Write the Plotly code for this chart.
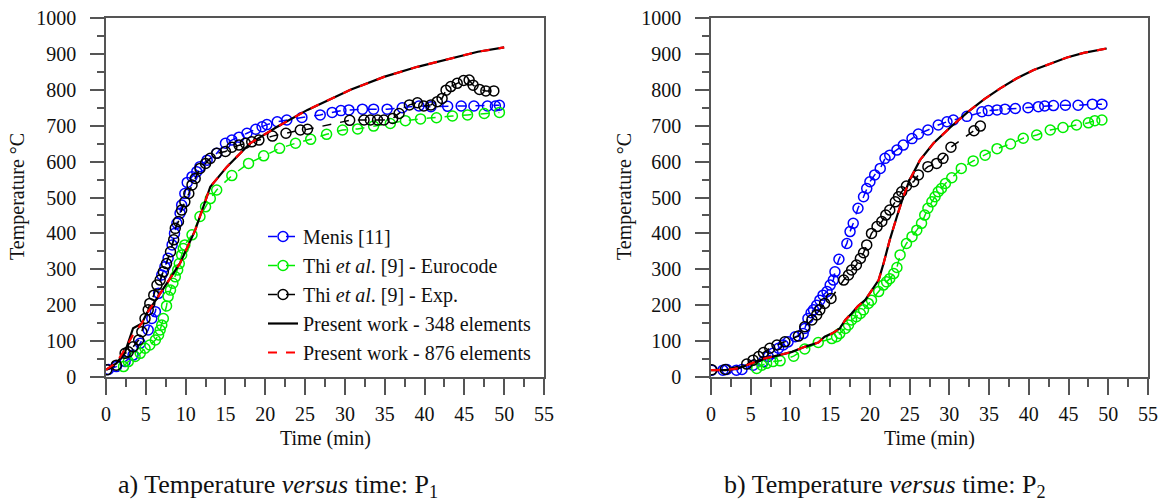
import plotly.graph_objects as go

# ---- P1 data (time in min, temperature in degC) ----
p1_menis_t = [0.3, 1.3, 2.4, 3.4, 4.3, 5.3, 5.75, 6.2, 6.6, 7.0, 7.4, 7.8, 8.3, 8.6, 8.9,
              9.3, 9.5, 9.9, 10.2, 10.8, 11.4, 11.8, 12.7, 13.9, 15.0, 15.8, 16.7, 17.7, 18.8, 19.6,
              20.2, 21.5, 22.7, 24.6, 26.9, 28.4, 29.5, 30.5, 32.2, 33.6, 35.3, 37.2, 39.3, 40.8, 42.9,
              44.6, 46.2, 47.9, 48.9, 49.4]
p1_menis_T = [21, 29, 43, 61, 94, 131, 163, 182, 233, 284, 307, 331, 368, 400, 428,
              456, 479, 511, 542, 558, 572, 586, 604, 623, 651, 660, 668, 679, 690, 697,
              703, 711, 716, 723, 730, 737, 742, 744, 746, 746, 746, 750, 755, 753, 754,
              755, 755, 755, 755, 757]

p1_euro_t = [2.2, 2.8, 3.65, 4.3, 4.9, 5.5, 6.2, 6.6, 6.8, 7.0, 7.2, 7.6, 7.8, 8.1, 8.4,
             8.7, 9.0, 9.2, 9.5, 9.7, 9.9, 10.8, 11.8, 12.5, 13.1, 13.9, 15.8, 17.9, 19.8, 21.8,
             23.8, 25.7, 27.7, 29.7, 31.6, 33.6, 35.7, 37.6, 39.5, 41.5, 43.5, 45.4, 47.5, 49.4]
p1_euro_T = [29, 43, 57, 66, 80, 89, 103, 117, 131, 145, 163, 198, 224, 242, 261,
             279, 298, 316, 340, 358, 368, 396, 447, 474, 497, 521, 561, 595, 616, 637,
             651, 662, 676, 688, 691, 699, 706, 714, 719, 722, 727, 730, 734, 737]

p1_exp_t = [0.1, 1.3, 2.4, 2.8, 3.4, 4.1, 4.5, 4.9, 5.3, 5.5, 6.0, 6.4, 6.8, 7.2, 7.6,
            8.1, 8.5, 8.7, 9.1, 9.5, 9.9, 10.4, 10.8, 11.2, 11.8, 12.5, 13.1, 13.9, 15.0, 15.8,
            16.7, 17.5, 18.3, 19.2, 20.9, 22.6, 24.4, 25.3, 30.6, 32.4, 33.2, 34.1, 34.9, 36.0, 36.8,
            38.1, 39.1, 39.9, 40.8, 41.6, 42.2, 42.7, 43.3, 44.1, 44.9, 45.6, 46.1, 46.9, 47.7, 48.7]
p1_exp_T = [20, 33, 66, 70, 84, 103, 126, 163, 187, 205, 228, 256, 270, 293, 316,
            349, 382, 414, 433, 465, 488, 511, 535, 553, 581, 595, 609, 623, 628, 640,
            646, 651, 655, 660, 671, 679, 688, 690, 715, 716, 716, 716, 716, 720, 734,
            758, 764, 755, 758, 767, 776, 799, 809, 818, 826, 827, 813, 801, 797, 797]

p1_fem_t = [0, 1.3, 2.4, 3.4, 4.5, 5.1, 6.4, 7.6, 9.3, 11.2, 13.1, 15.2, 18.1, 21.5, 25.3,
            30.7, 34.9, 39.1, 43.3, 46.7, 50]
p1_348_T = [20, 38, 70, 136, 149, 177, 219, 261, 317, 409, 530, 586, 651, 697, 744,
            800, 836, 864, 887, 906, 918]
p1_876_T = [20, 40, 78, 118, 150, 176, 219, 261, 317, 409, 530, 586, 651, 697, 744,
            800, 836, 864, 887, 906, 918]

# ---- P2 data ----
p2_menis_t = [0.1, 1.5, 2.0, 3.2, 3.9, 5.3, 6.6, 7.2, 7.8, 8.5, 9.1, 9.7, 10.6, 11.6, 11.8,
              12.2, 12.6, 12.9, 13.3, 13.7, 14.1, 14.6, 15.0, 15.4, 15.6, 16.1, 17.1, 17.5, 17.9, 18.5,
              19.2, 19.6, 20.0, 20.6, 21.3, 21.9, 22.5, 23.4, 24.2, 25.3, 26.1, 27.3, 28.6, 29.7, 30.5,
              32.2, 34.1, 34.9, 36.0, 37.0, 38.3, 39.9, 41.2, 42.0, 43.1, 44.6, 46.2, 48.0, 49.2]
p2_menis_T = [19, 19, 21, 19, 21, 33, 43, 57, 66, 80, 89, 98, 112, 121, 135,
              163, 179, 187, 200, 214, 228, 238, 256, 270, 293, 328, 372, 405, 428, 470,
              502, 525, 544, 563, 581, 609, 618, 632, 646, 664, 677, 688, 702, 711, 716,
              726, 739, 742, 744, 746, 748, 750, 753, 755, 756, 757, 757, 760, 760]

p2_euro_t = [5.75, 6.4, 7.0, 7.8, 8.7, 10.4, 11.8, 13.5, 15.2, 15.8, 16.2, 16.9, 17.3, 17.7, 18.3,
             18.8, 19.2, 19.8, 20.2, 21.1, 21.7, 22.1, 22.5, 23.0, 23.4, 23.8, 24.6, 25.3, 25.9, 26.5,
             26.9, 27.3, 27.8, 28.2, 28.6, 29.0, 29.5, 30.3, 31.5, 33.0, 34.5, 36.0, 37.7, 39.3, 41.0,
             42.7, 44.3, 46.0, 47.5, 48.3, 49.2]
p2_euro_T = [24, 33, 38, 43, 45, 58, 78, 96, 107, 112, 121, 135, 145, 159, 168,
             177, 187, 205, 214, 238, 256, 265, 274, 288, 305, 340, 372, 391, 409, 428,
             451, 470, 488, 502, 516, 525, 539, 555, 581, 602, 618, 636, 649, 665, 674,
             688, 695, 702, 708, 714, 716]

p2_exp_t = [0.1, 1.8, 4.5, 5.3, 6.0, 6.6, 7.4, 8.3, 9.3, 11.0, 11.8, 12.7, 13.3, 13.7, 14.3,
            15.1, 16.7, 17.3, 17.7, 18.3, 18.8, 19.2, 19.6, 20.2, 20.9, 21.5, 22.0, 22.5, 23.2, 23.6,
            24.0, 24.6, 25.5, 26.1, 27.3, 28.4, 29.2, 30.2, 33.1, 33.9]
p2_exp_T = [20, 21, 36, 47, 57, 68, 80, 89, 98, 114, 140, 159, 173, 187, 205,
            219, 270, 284, 298, 312, 330, 346, 368, 400, 419, 433, 451, 465, 488, 502,
            516, 532, 544, 563, 586, 595, 609, 640, 686, 699]

p2_fem_t = [0, 1.8, 3.4, 5.1, 6.8, 8.6, 10.2, 11.8, 13.5, 14.3, 15.2, 16.2, 16.9, 17.7, 18.5,
            19.4, 20.2, 21.1, 21.7, 22.5, 23.4, 24.2, 25.0, 26.3, 28.0, 30.1, 32.3, 34.4, 36.4, 38.5,
            40.6, 42.7, 44.8, 46.9, 49.8]
p2_348_T = [19, 19, 24, 38, 52, 61, 70, 84, 96, 112, 121, 135, 159, 177, 198,
            214, 242, 270, 315, 382, 447, 502, 549, 604, 651, 695, 738, 774, 804, 832,
            855, 873, 890, 903, 915]
p2_876_T = p2_348_T

names = ["Menis [11]", "Thi <i>et al</i>. [9] - Eurocode", "Thi <i>et al</i>. [9] - Exp.",
         "Present work - 348 elements", "Present work - 876 elements"]

FONT = "Liberation Serif"
W, H = 1158, 501
AX = "#555555"


def fx(v):
    # page pixel -> paper fraction (x)
    return v / W


def fy(v):
    # page pixel (from top) -> paper fraction (y)
    return 1 - v / H


fig = go.Figure()


def add_panel(xa, ya, menis, euro, exp, fem_t, t348, t876, show):
    common = dict(xaxis=xa, yaxis=ya, showlegend=show)
    fig.add_trace(go.Scatter(x=menis[0], y=menis[1], name=names[0], mode="lines+markers",
                             line=dict(color="#0000ff", width=1.5, dash="dash"),
                             marker=dict(symbol="circle-open", size=10, line=dict(width=1.5)),
                             legendgroup="a", **common))
    fig.add_trace(go.Scatter(x=euro[0], y=euro[1], name=names[1], mode="lines+markers",
                             line=dict(color="#00ee00", width=1.5, dash="dash"),
                             marker=dict(symbol="circle-open", size=10, line=dict(width=1.5)),
                             legendgroup="b", **common))
    fig.add_trace(go.Scatter(x=exp[0], y=exp[1], name=names[2], mode="lines+markers",
                             line=dict(color="#000000", width=1.5, dash="dash"),
                             marker=dict(symbol="circle-open", size=10, line=dict(width=1.5)),
                             legendgroup="c", **common))
    fig.add_trace(go.Scatter(x=fem_t, y=t348, name=names[3], mode="lines",
                             line=dict(color="#000000", width=2.2), legendgroup="d", **common))
    fig.add_trace(go.Scatter(x=fem_t, y=t876, name=names[4], mode="lines",
                             line=dict(color="#ff0000", width=2.2, dash="dash"),
                             legendgroup="e", **common))


add_panel("x", "y", (p1_menis_t, p1_menis_T), (p1_euro_t, p1_euro_T), (p1_exp_t, p1_exp_T),
          p1_fem_t, p1_348_T, p1_876_T, True)
add_panel("x2", "y2", (p2_menis_t, p2_menis_T), (p2_euro_t, p2_euro_T), (p2_exp_t, p2_exp_T),
          p2_fem_t, p2_348_T, p2_876_T, False)

xa_common = dict(range=[0, 55], tickmode="linear", tick0=0, dtick=5, ticks="outside", ticklen=16,
                 tickcolor=AX, tickwidth=1.5, showline=True, linecolor=AX, linewidth=1.5,
                 mirror=True, showgrid=False, zeroline=False, ticklabelstandoff=2,
                 automargin=False, ticklabeloverflow="allow",
                 tickfont=dict(family=FONT, size=20, color="#111"),
                 minor=dict(dtick=2.5, ticks="outside", ticklen=8, tickcolor=AX, tickwidth=1.5))
ya_common = dict(range=[0, 1000], tickmode="linear", tick0=0, dtick=100, ticks="outside", ticklen=14,
                 tickcolor=AX, tickwidth=1.5, showline=True, linecolor=AX, linewidth=1.5,
                 mirror=True, showgrid=False, zeroline=False, ticklabelstandoff=10,
                 automargin=False, ticklabeloverflow="allow",
                 tickfont=dict(family=FONT, size=20, color="#111"),
                 minor=dict(dtick=50, ticks="outside", ticklen=7, tickcolor=AX, tickwidth=1.5))

y_dom = [fy(377), fy(18)]
fig.update_layout(
    width=W, height=H,
    margin=dict(l=0, r=0, t=0, b=0, autoexpand=False),
    paper_bgcolor="white", plot_bgcolor="white",
    font=dict(family=FONT, size=20, color="#111"),
    xaxis=dict(domain=[fx(106), fx(544)], anchor="y", **xa_common),
    yaxis=dict(domain=y_dom, anchor="x", **ya_common),
    xaxis2=dict(domain=[fx(711), fx(1148)], anchor="y2", **xa_common),
    yaxis2=dict(domain=y_dom, anchor="x2", **ya_common),
    legend=dict(x=fx(263), y=fy(217), xanchor="left", yanchor="top",
                bgcolor="rgba(0,0,0,0)", tracegroupgap=0, traceorder="grouped",
                font=dict(family=FONT, size=20, color="#111")),
)

annos = [
    dict(x=fx(325), y=fy(438), text="Time (min)", textangle=0),
    dict(x=fx(929), y=fy(438), text="Time (min)", textangle=0),
    dict(x=fx(18), y=fy(197), text="Temperature °C", textangle=-90),
    dict(x=fx(625), y=fy(197), text="Temperature °C", textangle=-90),
]
for a in annos:
    fig.add_annotation(xref="paper", yref="paper", showarrow=False,
                       xanchor="center", yanchor="middle",
                       font=dict(family=FONT, size=20, color="#111"), **a)

fig.add_annotation(xref="paper", yref="paper", x=fx(278), y=fy(486), showarrow=False,
                   xanchor="center", yanchor="middle",
                   text="a) Temperature <i>versus</i> time: P<sub>1</sub>",
                   font=dict(family=FONT, size=26, color="#111"))
fig.add_annotation(xref="paper", yref="paper", x=fx(885), y=fy(486), showarrow=False,
                   xanchor="center", yanchor="middle",
                   text="b) Temperature <i>versus</i> time: P<sub>2</sub>",
                   font=dict(family=FONT, size=26, color="#111"))

# drop the default page margin so the figure sits at the window corner
fig.write_html("out.html", config={"displayModeBar": False},
               post_script="document.body.style.margin='0';document.body.style.overflow='hidden';")
